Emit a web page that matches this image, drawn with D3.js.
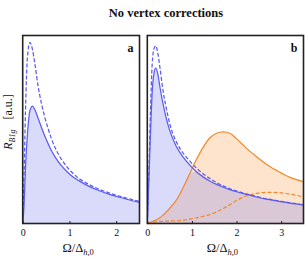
<!DOCTYPE html>
<html>
<head>
<meta charset="utf-8">
<script src="https://cdn.jsdelivr.net/npm/d3@7"></script>
<style>
  body { margin: 0; background: #fff; }
  svg text { font-family: "Liberation Serif", "DejaVu Serif", serif; fill: #111; }
</style>
</head>
<body>
<svg id="chart" width="305" height="261"></svg>
<script>
// panel a data (Omega / Delta_h,0 vs R_B1g, arb. units)
var omegaA = [0, 0.03, 0.06, 0.1, 0.155, 0.21, 0.26, 0.33, 0.4, 0.47, 0.55, 0.61, 0.7, 0.82, 0.95, 1.03, 1.2, 1.4, 1.6, 1.86, 2.05, 2.2, 2.35, 2.5]
var blueSolidA = [0, 0.1, 0.3, 0.47, 0.6, 0.625, 0.605, 0.56, 0.512, 0.467, 0.422, 0.39, 0.352, 0.31, 0.275, 0.257, 0.228, 0.2, 0.178, 0.155, 0.141, 0.131, 0.121, 0.112]
var blueDashA = [0, 0.27, 0.6, 0.88, 0.963, 0.925, 0.85, 0.73, 0.64, 0.568, 0.5, 0.455, 0.4, 0.345, 0.3, 0.278, 0.24, 0.21, 0.186, 0.162, 0.147, 0.137, 0.127, 0.117]

// panel b data
var omegaB = [0, 0.03, 0.07, 0.11, 0.15, 0.19, 0.24, 0.28, 0.35, 0.42, 0.5, 0.65, 0.8, 0.95, 1.1, 1.25, 1.4, 1.55, 1.7, 1.85, 2.0, 2.2, 2.45, 2.7, 2.95, 3.2, 3.5]
var blueSolidB = [0, 0.2, 0.47, 0.7, 0.8, 0.826, 0.79, 0.73, 0.64, 0.565, 0.497, 0.41, 0.355, 0.312, 0.275, 0.248, 0.226, 0.208, 0.193, 0.18, 0.169, 0.156, 0.141, 0.128, 0.118, 0.108, 0.098]
var blueDashB = [0, 0.23, 0.59, 0.85, 0.93, 0.945, 0.9, 0.835, 0.71, 0.62, 0.533, 0.435, 0.375, 0.333, 0.295, 0.265, 0.24, 0.218, 0.2, 0.185, 0.173, 0.159, 0.143, 0.13, 0.12, 0.11, 0.1]
var orangeSolidB = [0, 0.002, 0.005, 0.01, 0.014, 0.018, 0.024, 0.03, 0.044, 0.06, 0.08, 0.124, 0.19, 0.265, 0.34, 0.405, 0.455, 0.48, 0.488, 0.48, 0.45, 0.405, 0.355, 0.31, 0.275, 0.245, 0.222]
var orangeDashB = [0, 0.003, 0.005, 0.006, 0.007, 0.008, 0.009, 0.01, 0.011, 0.012, 0.013, 0.015, 0.018, 0.023, 0.03, 0.038, 0.047, 0.062, 0.08, 0.1, 0.122, 0.145, 0.16, 0.166, 0.164, 0.156, 0.142]

var ticksA = [0, 1, 2]
var ticksB = [0, 1, 2, 3]

var blue = "#5b5bf0", orange = "#f28a2c"
var svg = d3.select("#chart")

svg.append("text").attr("x", 166).attr("y", 17).attr("text-anchor", "middle")
	.style("font-size", "12.5px").style("font-weight", "bold").text("No vertex corrections")

// y label
var yl = svg.append("text").attr("transform", "translate(12,122) rotate(-90)")
	.attr("text-anchor", "middle").style("font-size", "12px")
yl.append("tspan").style("font-style", "italic").text("R")
yl.append("tspan").attr("dy", 3).style("font-size", "8px").style("font-style", "italic").text("B1g")
yl.append("tspan").attr("dy", -3).attr("dx", 10).text("[a.u.]")

function panel(id, left, right, xmax, ticks, label) {
	var top = 35.5, bottom = 223.5
	var x = d3.scaleLinear().domain([0, xmax]).range([left, right])
	var y = d3.scaleLinear().domain([0, 1]).range([bottom, top])
	var g = svg.append("g")
	g.append("clipPath").attr("id", "clip" + id).append("rect")
		.attr("x", left).attr("y", top).attr("width", right - left).attr("height", bottom - top)
	var plot = g.append("g").attr("clip-path", "url(#clip" + id + ")")
	g.append("rect").attr("class", "frame").attr("x", left).attr("y", top)
		.attr("width", right - left).attr("height", bottom - top)
		.attr("fill", "none").attr("stroke", "#222").attr("stroke-width", 1.6)
	g.append("g").attr("transform", "translate(0," + bottom + ")")
		.call(d3.axisBottom(x).tickValues(ticks).tickSize(-2.5).tickPadding(5).tickFormat(d3.format("d")))
		.call(function(a) {
			a.select(".domain").remove()
			a.selectAll("line").attr("stroke", "#222")
			a.selectAll("text").style("font-size", "10px").style("font-family", "Liberation Serif, serif").attr("fill", "#111")
		})
	g.append("text").attr("x", right - 6).attr("y", 52).attr("text-anchor", "end")
		.style("font-size", "12px").style("font-weight", "bold").text(label)
	var xl = g.append("text").attr("x", (left + right) / 2 - 3).attr("y", 252).attr("text-anchor", "middle").style("font-size", "12.5px")
	xl.append("tspan").text("Ω/Δ")
	xl.append("tspan").attr("dy", 3).style("font-size", "8.5px").style("font-style", "italic").text("h")
	xl.append("tspan").style("font-size", "8.5px").text(",0")
	return {x: x, y: y, plot: plot}
}

function drawArea(p, xs, ys, fill) {
	var pts = xs.map(function(d, i) { return [d, ys[i]] })
	p.plot.append("path").datum(pts).attr("fill", fill)
		.attr("d", d3.area().curve(d3.curveMonotoneX)
			.x(function(d) { return p.x(d[0]) }).y0(p.y(0)).y1(function(d) { return p.y(d[1]) }))
}
function drawLine(p, xs, ys, color, dash) {
	var pts = xs.map(function(d, i) { return [d, ys[i]] })
	p.plot.append("path").datum(pts).attr("fill", "none").attr("stroke", color)
		.attr("stroke-width", 1.25).attr("stroke-dasharray", dash ? "4,2" : null)
		.attr("d", d3.line().curve(d3.curveMonotoneX)
			.x(function(d) { return p.x(d[0]) }).y(function(d) { return p.y(d[1]) }))
}

var pa = panel("a", 22.7, 139.5, 2.5, ticksA, "a")
drawArea(pa, omegaA, blueSolidA, "#dadafa")
drawLine(pa, omegaA, blueDashA, blue, true)
drawLine(pa, omegaA, blueSolidA, blue, false)

var pb = panel("b", 147.3, 303.5, 3.5, ticksB, "b")
drawArea(pb, omegaB, blueSolidB, "#dadafa")
drawArea(pb, omegaB, orangeSolidB, "#ffe4cd")
drawArea(pb, omegaB, omegaB.map(function(d, i) { return Math.min(blueSolidB[i], orangeSolidB[i]) }), "#dac8d7")
drawLine(pb, omegaB, orangeDashB, orange, true)
drawLine(pb, omegaB, orangeSolidB, orange, false)
drawLine(pb, omegaB, blueDashB, blue, true)
drawLine(pb, omegaB, blueSolidB, blue, false)

// frames on top
svg.selectAll("rect.frame").raise()
</script>
</body>
</html>
